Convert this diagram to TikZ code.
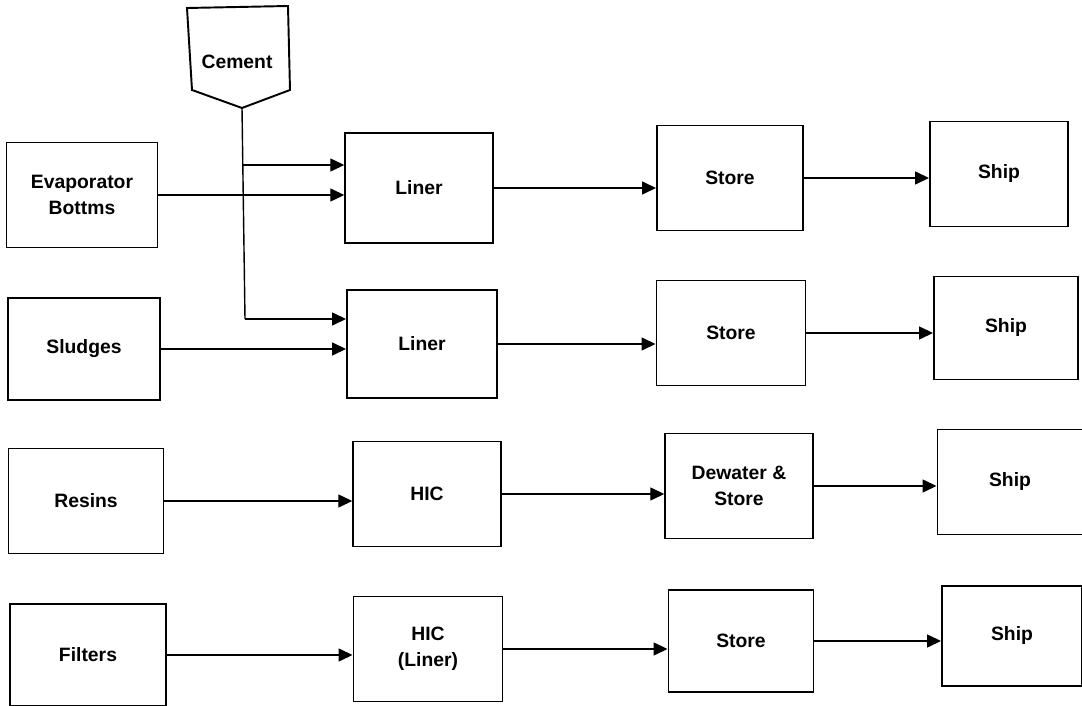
\documentclass[tikz,border=0pt]{standalone}
\usepackage{fontspec}
\setmainfont{Liberation Sans}
\usetikzlibrary{arrows.meta,positioning}

\begin{document}
\begin{tikzpicture}[
  blk/.style={rectangle,draw=black,line width=1.1pt,minimum width=2.95cm,minimum height=2.1cm,align=center,font=\fontsize{11}{15}\selectfont\bfseries},
  flow/.style={-{Triangle[length=2.8mm,width=2.6mm]},line width=0.8pt}]
\useasboundingbox (0,0) rectangle (21.64,-14.12);
% sources
\node[blk,minimum width=3.02cm] (evap) at (1.64,-3.90) {Evaporator\\Bottms};
\node[blk,minimum width=3.04cm,minimum height=2.04cm] (sludge) at (1.68,-6.98) {Sludges};
\node[blk,minimum width=3.1cm] (resins) at (1.72,-10.02) {Resins};
\node[blk,minimum width=3.12cm,minimum height=2.04cm] (filters) at (1.76,-13.10) {Filters};
% containers
\node[blk,minimum height=2.2cm] (liner1) at (8.38,-3.76) {Liner};
\node[blk,minimum width=3.0cm,minimum height=2.16cm] (liner2) at (8.44,-6.88) {Liner};
\node[blk] (hic) at (8.54,-9.88) {HIC};
\node[blk,minimum width=2.98cm] (hicl) at (8.56,-12.98) {HIC\\(Liner)};
% storage
\node[blk,minimum width=2.92cm] (store1) at (14.60,-3.56) {Store};
\node[blk,minimum width=2.98cm] (store2) at (14.62,-6.66) {Store};
\node[blk] (dewater) at (14.78,-9.72) {Dewater \&\\Store};
\node[blk,minimum width=2.9cm,minimum height=2.04cm] (store4) at (14.82,-12.82) {Store};
% shipping
\node[blk,minimum width=2.76cm] (ship1) at (19.98,-3.48) {Ship};
\node[blk,minimum width=2.88cm,minimum height=2.06cm] (ship2) at (20.12,-6.56) {Ship};
\node[blk,minimum width=2.9cm] (ship3) at (20.2,-9.64) {Ship};
\node[blk,minimum width=2.8cm,minimum height=2.0cm] (ship4) at (20.24,-12.72) {Ship};
% cement hopper
\draw[line width=1.1pt] (3.74,-0.16) -- (5.76,-0.12) -- (5.80,-1.80) -- (4.84,-2.16) -- (3.84,-1.80) -- cycle;
\node[font=\fontsize{11}{15}\selectfont\bfseries] (cement) at (4.74,-1.24) {Cement};
\coordinate (cemtip) at (4.84,-2.16);
\coordinate (cembend) at (4.90,-6.38);
\draw[line width=0.8pt] (cemtip) -- (cembend);
\draw[flow] (cembend) -- (cembend -| liner2.west);
\draw[flow] (cemtip |- 0,-3.30) -- (liner1.west |- 0,-3.30);
% flows
\foreach \u/\v in {evap/liner1,sludge/liner2,resins/hic,filters/hicl}
  \draw[flow] (\u.east) -- (\u.east -| \v.west);
\foreach \u/\v in {liner1/store1,liner2/store2,hic/dewater,hicl/store4,
                   store1/ship1,store2/ship2,dewater/ship3,store4/ship4}
  \draw[flow] (\u.east) -- (\u.east -| \v.west);
\end{tikzpicture}
\end{document}
